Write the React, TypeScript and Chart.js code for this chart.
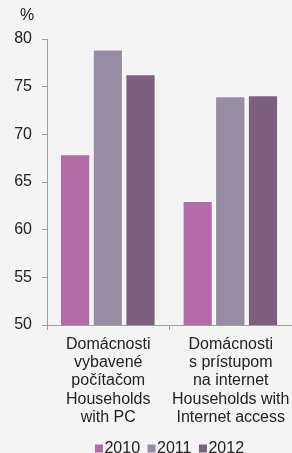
import React, { useEffect, useRef } from "react";
import { Chart, registerables } from "chart.js";

Chart.register(...registerables);

const categories: string[][] = [
  ["Domácnosti", "vybavené", "počítačom", "Households", "with PC"],
  ["Domácnosti", "s prístupom", "na internet", "Households with", "Internet access"],
];
const series2010 = [67.9, 63.0];
const series2011 = [78.9, 74.0];
const series2012 = [76.3, 74.1];
const seriesLabels = ["2010", "2011", "2012"];
const seriesColors = ["#b56ba8", "#978da3", "#7b617e"];
const yUnit = "%";

const FONT = "'Liberation Sans', Arial, sans-serif";

export default function App() {
  const ref = useRef<HTMLCanvasElement | null>(null);
  useEffect(() => {
    document.body.style.margin = "0";
    document.body.style.background = "#f4f4f4";
    const extrasPlugin = {
      id: "extras",
      afterDraw(chart: any) {
        const ctx = chart.ctx;
        ctx.save();
        ctx.fillStyle = "#222";
        ctx.font = `16px ${FONT}`;
        ctx.textAlign = "left";
        ctx.textBaseline = "alphabetic";
        ctx.fillText(yUnit, 20, 20);
        // legend
        const items = chart.data.datasets.map((d: any) => ({
          label: d.label,
          color: d.backgroundColor,
          w: ctx.measureText(d.label).width,
        }));
        const box = 8;
        const gap = 1.5;
        const spacing = 7.5;
        const total = items.reduce((s: number, it: any) => s + box + gap + it.w, 0) + spacing * (items.length - 1);
        const area = chart.chartArea;
        let x = (area.left + area.right) / 2 - total / 2;
        const baseline = 452.5;
        for (const it of items) {
          ctx.fillStyle = it.color;
          ctx.fillRect(x, baseline - box, box, box);
          x += box + gap;
          ctx.fillStyle = "#222";
          ctx.fillText(it.label, x, baseline);
          x += it.w + spacing;
        }
        ctx.restore();
      },
    };
    const chart = new Chart(ref.current!, {
      type: "bar",
      data: {
        labels: categories,
        datasets: seriesLabels.map((label, i) => ({
          label,
          data: [series2010, series2011, series2012][i],
          backgroundColor: seriesColors[i],
          borderColor: "rgba(255,255,255,0.45)",
          borderWidth: { top: 1, right: 1 } as any,
        })),
      },
      options: {
        animation: false,
        responsive: false,
        layout: { padding: { top: 39, right: 0, left: 0, bottom: 22 } },
        scales: {
          x: {
            grid: { drawOnChartArea: false, drawTicks: true, tickLength: 5, color: "#a0a0a0", offset: true },
            border: { color: "#a0a0a0" },
            ticks: { color: "#222", font: { family: FONT, size: 16, lineHeight: 1.15 }, maxRotation: 0, padding: 5, autoSkip: false },
            categoryPercentage: 0.75,
            barPercentage: 1.0,
            afterFit(scale: any) {
              scale.height = 106;
              scale.paddingLeft = 0;
              scale.paddingRight = 0;
            },
          } as any,
          y: {
            min: 50,
            max: 80,
            ticks: { stepSize: 5, color: "#222", font: { family: FONT, size: 16 }, padding: 10 },
            grid: { drawOnChartArea: false, drawTicks: true, tickLength: 5, color: "#a0a0a0" },
            border: { color: "#a0a0a0" },
            afterFit(scale: any) {
              scale.width = 47;
            },
          },
        },
        plugins: {
          legend: { display: false },
          tooltip: { enabled: false },
        },
      },
      plugins: [extrasPlugin],
    });
    return () => chart.destroy();
  }, []);
  return (
    <div style={{ width: 292, height: 453, background: "#f4f4f4" }}>
      <canvas ref={ref} width={292} height={453} style={{ display: "block" }} />
    </div>
  );
}
